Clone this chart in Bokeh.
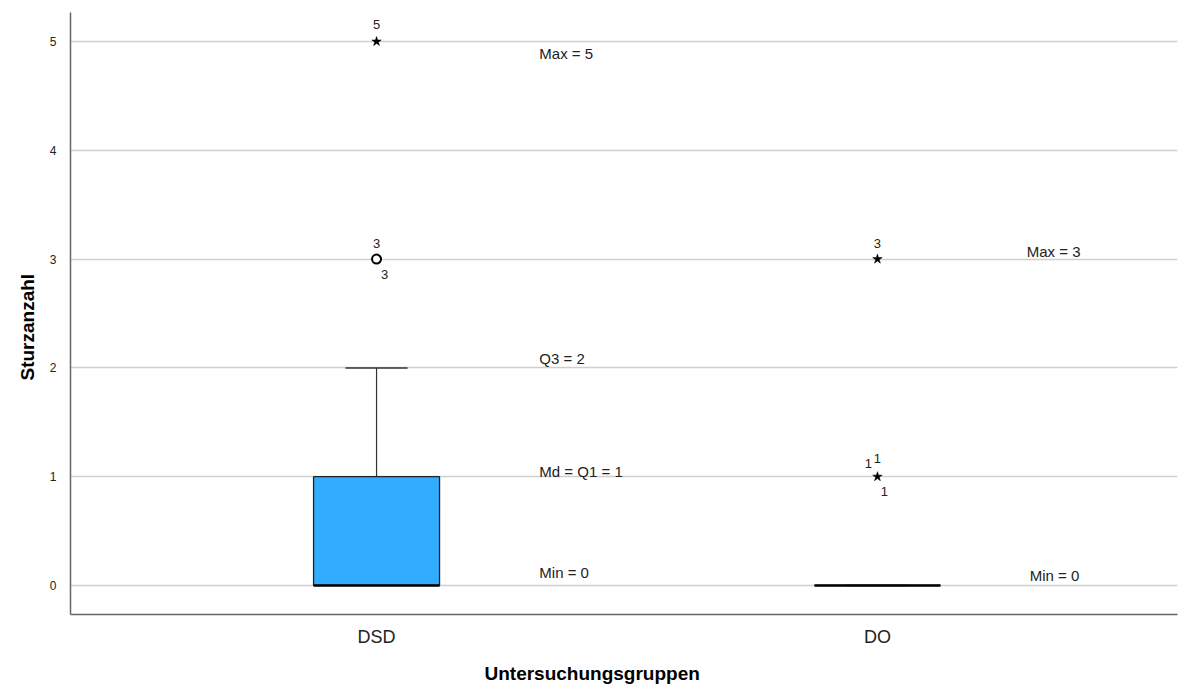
from bokeh.plotting import figure
from bokeh.models import Range1d, FixedTicker, ColumnDataSource, Title
from bokeh.core.properties import value
from bokeh.embed import file_html
from bokeh.resources import INLINE

# Falls per study group
groups = ["DSD", "DO"]
group_pos = [1, 2]
box_low = [0, 0]
box_high = [1, 0]
medians = [0, 0]
whisker_low = [0, 0]
whisker_high = [2, 0]

# Outliers (circle) and extreme values (star)
outlier_group = [1]
outlier_value = [3]
extreme_group = [1, 2, 2]
extreme_value = [5, 1, 3]

# Case labels next to outliers / extremes
case_text = ["5", "3", "3", "3", "1", "1", "1"]
case_group = [1, 1, 1, 2, 2, 2, 2]
case_value = [5, 3, 3, 3, 1, 1, 1]

# Summary statistics written beside each box
stat_text = ["Max = 5", "Q3 = 2", "Md = Q1 = 1", "Min = 0", "Max = 3", "Min = 0"]
stat_group = [1, 1, 1, 1, 2, 2]
stat_value = [5, 2, 1, 0, 3, 0]

FONT = "Liberation Sans"

p = figure(width=1178, height=696, output_backend="svg", toolbar_location=None,
           x_range=Range1d(0.389, 2.599), y_range=Range1d(-0.267, 5.267),
           min_border_left=70, min_border_right=1, min_border_top=12, min_border_bottom=82)
p.outline_line_color = None
p.background_fill_color = "white"

# axes
p.xaxis.ticker = FixedTicker(ticks=group_pos)
p.xaxis.major_label_overrides = {g: n for g, n in zip(group_pos, groups)}
p.yaxis.ticker = FixedTicker(ticks=[0, 1, 2, 3, 4, 5])
for ax in (p.xaxis, p.yaxis):
    ax.axis_line_color = "#666666"
    ax.axis_line_width = 1.5
    ax.major_tick_line_color = None
    ax.minor_tick_line_color = None
    ax.major_label_text_font = FONT
    ax.major_label_text_color = "#222222"
p.xaxis.major_label_text_font_size = "18px"
p.xaxis.major_label_standoff = 6
p.yaxis.major_label_text_font_size = "12px"
p.yaxis.major_label_standoff = 8

# axis titles
p.add_layout(Title(text="Untersuchungsgruppen", align="left", offset=414, standoff=23,
                   text_font=FONT, text_font_style="bold", text_font_size="19px",
                   text_color="black"), "below")
p.add_layout(Title(text="Sturzanzahl", align="left", offset=234, standoff=17,
                   text_font=FONT, text_font_style="bold", text_font_size="19px",
                   text_color="black"), "left")

p.xgrid.grid_line_color = None
p.ygrid.grid_line_color = "#cfcfcf"
p.ygrid.grid_line_width = 1.5

# whiskers and caps
p.segment(x0=group_pos, y0=box_high, x1=group_pos, y1=whisker_high, line_color="#333333", line_width=1.2)
p.segment(x0=group_pos, y0=box_low, x1=group_pos, y1=whisker_low, line_color="#333333", line_width=1.2)
cap_w = 0.124
p.segment(x0=[g - cap_w / 2 for g in group_pos], y0=whisker_high,
          x1=[g + cap_w / 2 for g in group_pos], y1=whisker_high, line_color="#333333", line_width=1.5)

# boxes
box_w = 0.2515
p.vbar(x=group_pos, bottom=box_low, top=box_high, width=box_w,
       fill_color="#31acff", line_color="#222222", line_width=1.3)

# medians
p.segment(x0=[g - box_w / 2 for g in group_pos], y0=medians,
          x1=[g + box_w / 2 for g in group_pos], y1=medians, line_color="black", line_width=2.5)

# outliers and extremes
p.scatter(x=outlier_group, y=outlier_value, marker="circle", size=9,
          fill_color="white", line_color="black", line_width=2)
p.scatter(x=extreme_group, y=extreme_value, marker="star", size=10,
          fill_color="black", line_color="black", line_width=0.5)

# case labels
case_dx = [0, 0, 8, 0, -9, 0, 7]
case_dy = [-17, -16, 15, -16, -13, -18, 15]
src = ColumnDataSource(dict(x=case_group, y=case_value, t=case_text, dx=case_dx, dy=case_dy))
p.text(x="x", y="y", text="t", x_offset="dx", y_offset="dy", source=src,
       text_font=value(FONT), text_font_size="13px", text_color="#222222",
       text_align="center", text_baseline="middle")

# summary statistic labels
stat_x = [1.325, 1.325, 1.325, 1.325, 2.298, 2.304]
stat_dy = [12, -9, -5, -13, -8, -10]
src2 = ColumnDataSource(dict(x=stat_x, y=stat_value, t=stat_text, dy=stat_dy))
p.text(x="x", y="y", text="t", y_offset="dy", source=src2,
       text_font=value(FONT), text_font_size="15px", text_color="#222222",
       text_align="left", text_baseline="middle")

open("out.html", "w").write(file_html(p, INLINE))
